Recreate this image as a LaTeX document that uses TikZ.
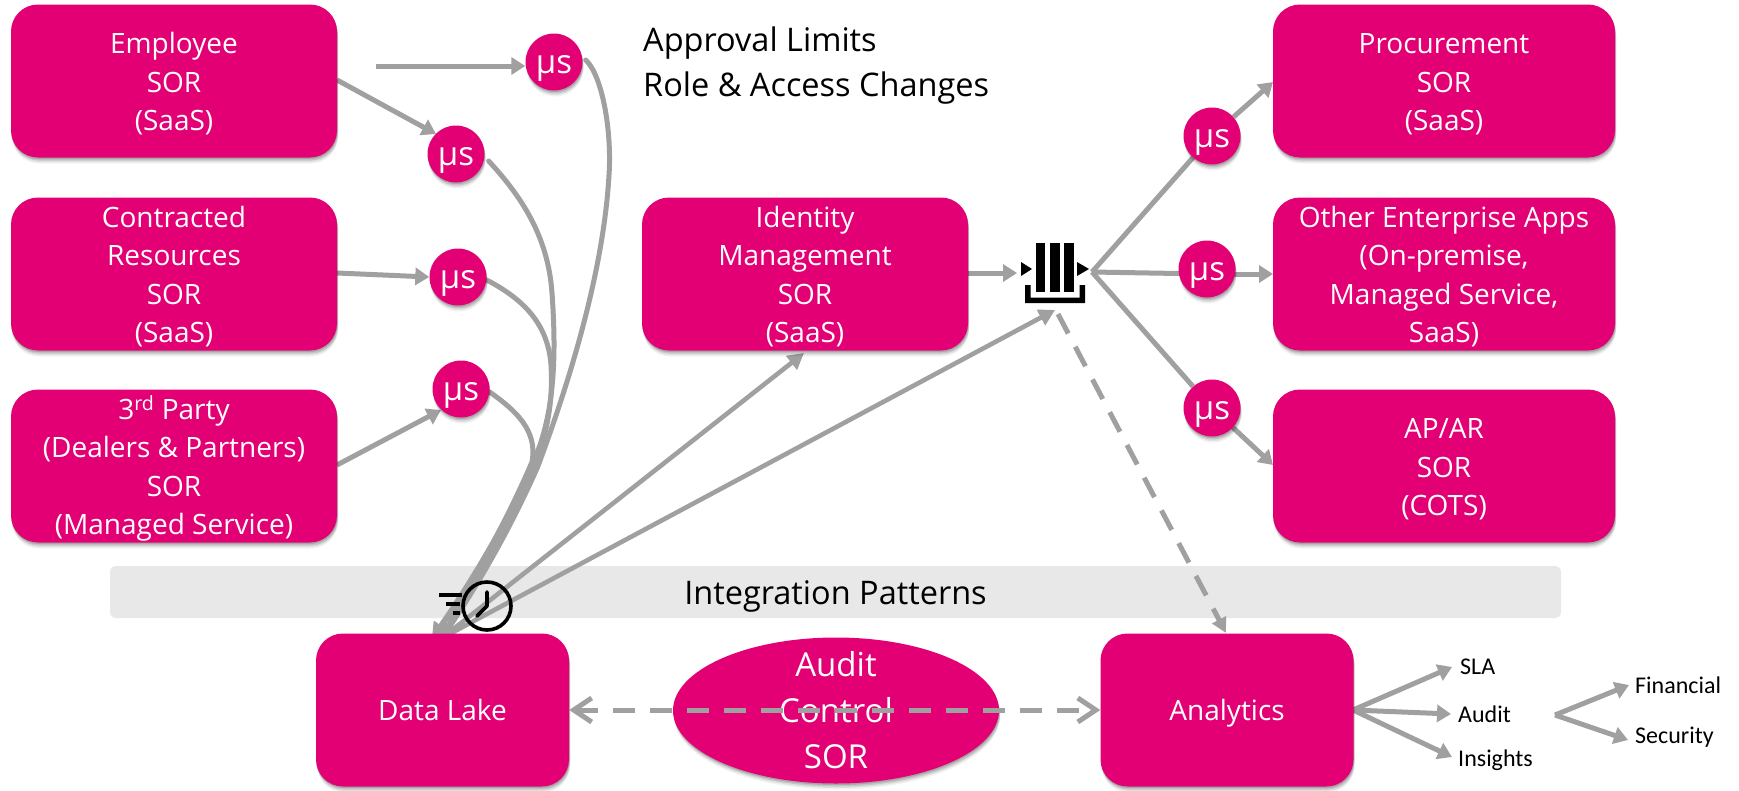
\documentclass[tikz,border=0pt]{standalone}
\usepackage{fontspec}
\setmainfont{Open Sans}
\newfontfamily\smallfam{Carlito}
\usetikzlibrary{arrows.meta,shapes.geometric,shadows,bending}
\definecolor{magent}{HTML}{E20074}
\definecolor{conn}{HTML}{A0A0A0}
\definecolor{bandc}{HTML}{E8E8E8}
\pgfdeclarelayer{back}
\pgfdeclarelayer{wires}
\pgfsetlayers{back,wires,main}
\newcommand{\firstln}{\rule{0pt}{32pt}}
\tikzset{
  softshadow/.style={
    general shadow={shadow xshift=1pt,shadow yshift=-6pt,fill=black,opacity=.05},
    general shadow={shadow xshift=1pt,shadow yshift=-4.5pt,fill=black,opacity=.08},
    general shadow={shadow xshift=1pt,shadow yshift=-3pt,fill=black,opacity=.12},
    general shadow={shadow xshift=.5pt,shadow yshift=-1.5pt,fill=black,opacity=.15}},
  sysbox/.style={rectangle,rounded corners=27pt,fill=magent,text=white,softshadow,
    inner xsep=0pt,inner ysep=-6pt,align=center,font=\fontsize{28}{38.5}\selectfont,
    execute at begin node={\rule{0pt}{31pt}},execute at end node={\rule[-10pt]{0pt}{10pt}}},
  mubox/.style={circle,fill=magent,text=white,softshadow,minimum size=57pt,inner sep=0pt,
    font=\fontsize{33}{38}\selectfont,
    execute at begin node={\rule{0pt}{32pt}},execute at end node={\rule[-9pt]{0pt}{9pt}}},
  oval/.style={ellipse,fill=magent,text=white,softshadow,minimum width=326pt,minimum height=146pt,
    inner sep=-45pt,align=center,font=\fontsize{33}{46}\selectfont},
  band/.style={rectangle,rounded corners=6pt,fill=bandc,minimum width=1451pt,minimum height=52pt,
    inner sep=0pt,font=\fontsize{32.5}{38}\selectfont,
    execute at begin node={\rule{0pt}{34pt}},execute at end node={\rule[-9pt]{0pt}{9pt}}},
  note/.style={inner sep=0pt,anchor=west,font=\fontsize{32.5}{38}\selectfont},
  tiny/.style={inner sep=0pt,anchor=west,font=\smallfam\fontsize{24}{28}\selectfont},
  link/.style={draw=conn,line width=5pt,-{Triangle[length=14pt,width=17pt]}},
  plainlink/.style={draw=conn,line width=5pt},
  curvelink/.style={draw=conn,line width=5pt,line cap=round,-{Triangle[length=15pt,width=16pt,flex]}},
  thinlink/.style={draw=conn,line width=4.6pt,-{Triangle[length=16pt,width=17pt]}},
  dashlink/.style={draw=conn,line width=5pt,dash pattern=on 22pt off 15pt},
  dashtip/.style={{Straight Barb[length=18pt,width=24pt,line width=5pt]}-{Straight Barb[length=18pt,width=24pt,line width=5pt]}},
  clockline/.style={draw=black,line width=3.6pt},
}
\begin{document}
\begin{tikzpicture}[x=1pt,y=-1pt]
\useasboundingbox (0,0) rectangle (1739,790);
\begin{pgfonlayer}{back}
\node[band] (bar) at (835.5,592) {Integration Patterns};
\end{pgfonlayer}
% left column
\node[sysbox,minimum width=326pt,minimum height=153pt] (emp) at (174,81) {\firstln Employee\\SOR\\(SaaS)};
\node[sysbox,minimum width=326pt,minimum height=153pt] (con) at (174,274) {\firstln Contracted\\Resources\\SOR\\(SaaS)};
\node[sysbox,minimum width=326pt,minimum height=153pt] (thd) at (174,466) {\firstln 3\textsuperscript{rd} Party\\(Dealers \& Partners)\\SOR\\(Managed Service)};
% centre
\node[sysbox,minimum width=326pt,minimum height=153pt] (idm) at (805,274) {\firstln Identity\\Management\\SOR\\(SaaS)};
% right column
\node[sysbox,minimum width=342pt,minimum height=153pt] (pro) at (1444,81) {\firstln Procurement\\SOR\\(SaaS)};
\node[sysbox,minimum width=342pt,minimum height=153pt] (oth) at (1444,274) {\firstln Other Enterprise Apps\\(On-premise,\\Managed Service,\\SaaS)};
\node[sysbox,minimum width=342pt,minimum height=153pt] (apa) at (1444,466) {\firstln AP/AR\\SOR\\(COTS)};
% bottom
\node[sysbox,minimum width=253pt,minimum height=153pt] (lak) at (442.5,710) {Data Lake};
\node[sysbox,minimum width=253pt,minimum height=153pt] (ana) at (1227,710) {Analytics};
\node[oval] (aud) at (836,710.5) {Audit\\Control\\SOR};
% microservices
\node[mubox] (m1) at (554,62) {µs};
\node[mubox] (m2) at (456,154) {µs};
\node[mubox] (m3) at (458,277) {µs};
\node[mubox] (m4) at (461,389) {µs};
\node[mubox] (m5) at (1212,136) {µs};
\node[mubox] (m6) at (1207,269) {µs};
\node[mubox] (m7) at (1212,408) {µs};
% texts
\node[note] (n1) at (643,43.5) {Approval Limits};
\node[note] (n2) at (643,88.5) {Role \& Access Changes};
\node[tiny] (sla) at (1460,667) {SLA};
\node[tiny] (adt) at (1458,714) {Audit};
\node[tiny] (ins) at (1458,760) {Insights};
\node[tiny] (fin) at (1635,685) {Financial};
\node[tiny] (sec) at (1635,737) {Security};
% named free ends
\coordinate (start1) at (376,66);
\coordinate (e2) at (337,80);
\coordinate (t2) at (436,134);
\coordinate (c3) at (337,273);
\coordinate (d4) at (337,465);
\coordinate (t4) at (441,410);
\coordinate (lakeA) at (432,638);
\coordinate (lakeB) at (442,638);
\coordinate (idmT) at (804,353);
\coordinate (qIn) at (1017,273);
\coordinate (qOut) at (1092,272);
\coordinate (qBot) at (1055,310);
\coordinate (qDash) at (1058,314);
\coordinate (anaT) at (1226,633);
\coordinate (proT) at (1273,82);
\coordinate (othT) at (1273,274);
\coordinate (apaT) at (1273,465);
\coordinate (anaE) at (1353,710);
\coordinate (adtE) at (1555,715);
\begin{pgfonlayer}{wires}
\draw[link] (start1) -- (m1.west |- start1);
\draw[link] (e2) -- (t2);
\draw[link] (c3) -- (m3.west);
\draw[link] (d4) -- (t4);
\draw[curvelink] (m1.east) ++(3,-2) .. controls (602,75) and (612,130) .. (609,175) .. controls (605,245) and (585,340) .. (538,466) .. controls (510,530) and (475,590) .. (lakeB);
\draw[curvelink] (m2.east) ++(4,7) .. controls (520,195) and (548,235) .. (552,293) .. controls (556,350) and (555,400) .. (540,445) .. controls (515,510) and (470,585) .. (lakeA);
\draw[curvelink] (m3.east) ++(0,3) .. controls (525,300) and (548,325) .. (551,365) .. controls (553,400) and (548,430) .. (535,465) .. controls (510,530) and (470,590) .. (lakeA);
\draw[curvelink] (m4.east) ++(0,3) .. controls (515,410) and (538,430) .. (532,462) .. controls (505,525) and (470,585) .. (lakeB);
\draw[thinlink] (lakeB) -- (idmT);
\draw[thinlink] (lakeB) -- (qBot);
\draw[link] (idm.east |- qIn) -- (qIn);
\draw[plainlink] (qOut) -- (m5);
\draw[plainlink] (qOut) -- (m6 |- othT);
\draw[plainlink] (qOut) -- (m7);
\draw[link] (m5) -- (proT);
\draw[link] (m6 |- othT) -- (othT);
\draw[link] (m7) -- (apaT);
\draw[link] (anaE) -- (1452,667) coordinate (slaT);
\draw[link] (anaE) -- (1451,714) coordinate (adtT);
\draw[link] (anaE) -- (1452,757) coordinate (insT);
\draw[link] (adtE) -- (1629,685) coordinate (finT);
\draw[link] (adtE) -- (1628,740) coordinate (secT);
\end{pgfonlayer}
% dashed connectors on top of the nodes
\draw[dashlink,-{Triangle[length=15pt,width=15pt]}] (qDash) -- (anaT);
\draw[dashlink,dashtip] (lak.east) -- (ana.west);
% queue icon
\fill (1036,243) rectangle (1045,292);
\fill (1050,243) rectangle (1059.5,292);
\fill (1064,243) rectangle (1073.5,292);
\fill (1021,262) -- (1032,269) -- (1021,276) -- cycle;
\fill (1077,262) -- (1089,269) -- (1077,276) -- cycle;
\fill (1025,285) -- (1030.5,285) -- (1030.5,297.5) -- (1079.5,297.5) -- (1079.5,285) -- (1085,285) -- (1085,303) -- (1025,303) -- cycle;
% clock icon
\draw[clockline] (487,606) circle (24);
\draw[clockline,line cap=round,line join=round] (487,592) -- (487,606) -- (477,616);
\draw[clockline] (439,595) -- (462,595);
\draw[clockline] (446,604) -- (460,604);
\draw[clockline] (453,613) -- (460,613);
\end{tikzpicture}
\end{document}
